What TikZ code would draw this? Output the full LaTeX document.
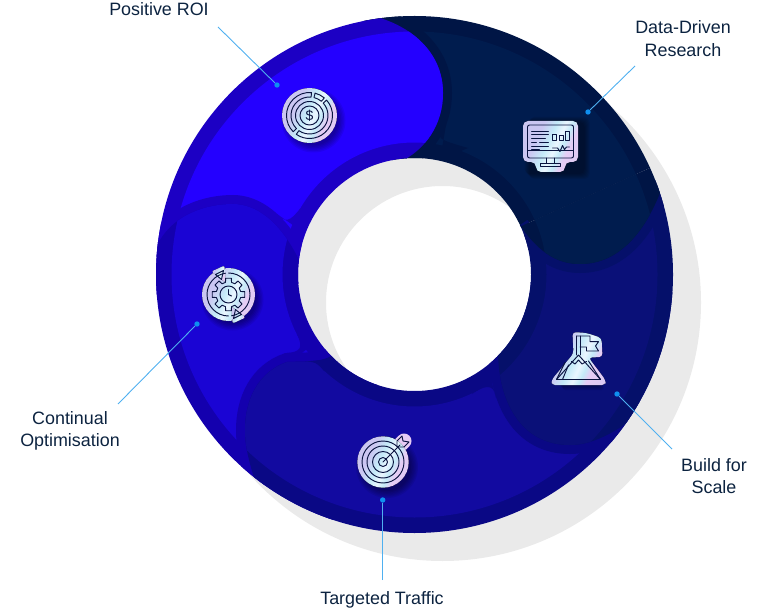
\documentclass[tikz,border=0pt]{standalone}
\usepackage{fontspec}
\setmainfont{Liberation Sans}
\usetikzlibrary{calc}
\definecolor{posF}{HTML}{2400FF}\definecolor{posR}{HTML}{1C00C4}
\definecolor{conF}{HTML}{1A04D4}\definecolor{conR}{HTML}{1400AE}
\definecolor{tarF}{HTML}{120AA0}\definecolor{tarR}{HTML}{0A0885}
\definecolor{bldF}{HTML}{0A1078}\definecolor{bldR}{HTML}{05106A}
\definecolor{datF}{HTML}{001C4E}\definecolor{datR}{HTML}{001545}
\definecolor{shad}{HTML}{EAEAEA}\definecolor{txt}{HTML}{0C2340}
\definecolor{lead}{HTML}{4FB0F0}\definecolor{dotc}{HTML}{0F8FEF}
\definecolor{ink}{HTML}{0A1440}
\definecolor{hA}{HTML}{CBC6F2}\definecolor{hB}{HTML}{C4EAF8}\definecolor{hC}{HTML}{EAF6FF}\definecolor{hD}{HTML}{E6CCF5}
\pgfdeclarehorizontalshading{holo}{100bp}{color(0bp)=(hA);color(35bp)=(hA);color(46bp)=(hB);color(54bp)=(hC);color(60bp)=(hB);color(66bp)=(hD);color(100bp)=(hA)}
\tikzset{
  label/.style={font=\fontsize{17.9}{22.5}\selectfont,text=txt,align=center,inner sep=0pt},
  dotn/.style={circle,fill=dotc,minimum size=5.4pt,inner sep=0pt},
  leader/.style={draw=lead,line width=.9pt},
  sticker/.style={shading=holo,shading angle=-25},
  icon/.style={draw=ink,line width=.95pt,line join=round,line cap=round},
}
\def\ringclip{\clip (414.5,274.5) circle[radius=258.5] (414.5,274.5) circle[radius=116.5];}
\def\bandclip{\clip (414.5,274.5) circle[radius=243] (414.5,274.5) circle[radius=132];}
% boundary curves
\def\curveP{(360,10) -- (377,17) .. controls (415,28) and (443,55) .. (443,93) .. controls (443,125) and (425,150) .. (400,162)}
\def\curveC{(140,262) -- (160,240) .. controls (175,215) and (205,204) .. (233,204) .. controls (255,204) and (280,220) .. (300,262)}
\def\curveT{(340,350) .. controls (325,364) and (305,361) .. (287,362) .. controls (258,372) and (245,400) .. (245,430) .. controls (245,445) and (248,460) .. (258,490)}
\def\curveB{(498,350) .. controls (498,400) and (520,445) .. (570,445) .. controls (590,445) and (615,435) .. (650,405)}
\def\curveD{(520,225) .. controls (540,255) and (560,264) .. (580,264) .. controls (620,264) and (650,230) .. (668,170)}
\newcommand\seglayer[3]{%
  \begin{scope}[even odd rule]\ringclip \fill[#2,nonzero rule] #1; \end{scope}
  \begin{scope}[even odd rule]\bandclip \fill[#3,nonzero rule] #1; \end{scope}}
\newcommand\halo[2]{\begin{scope}[even odd rule]\ringclip \draw[#1,line width=18pt] #2; \end{scope}}
\newcommand\segm[4]{\draw[icon] (#1:#3) arc[start angle=#1,end angle=#2,radius=#3] -- (#2:#4) arc[start angle=#2,end angle=#1,radius=#4] -- cycle;}
\newcommand\softshadow[1]{\foreach \s in {0,...,5}{\fill[black,opacity=.07] (4,-5) #1;}}
\begin{document}
\begin{tikzpicture}[x=1pt,y=-1pt]
\useasboundingbox (0,0) rectangle (770,609);
% drop shadow ring
\fill[shad,even odd rule] (442.5,302.5) circle[radius=258.5] (442.5,302.5) circle[radius=116.5];
% Data-Driven, body
\seglayer{(414.5,274.5) -- (350,-50) -- (800,-50) -- (800,100) -- cycle}{datR}{datF}
% Positive ROI
\halo{datR}{\curveP}
\seglayer{(414.5,274.5) -- (100,300) -- (100,-50) -- (360,-50) -- \curveP -- cycle}{posR}{posF}
% Continual Optimisation
\halo{posR}{\curveC}
\seglayer{\curveC -- (414.5,274.5) -- (300,620) -- (100,620) -- cycle}{conR}{conF}
% Targeted Traffic
\halo{conR}{\curveT}
\seglayer{(414.5,274.5) -- \curveT -- (240,620) -- (800,620) -- (800,300) -- cycle}{tarR}{tarF}
% Build for Scale
\halo{tarR}{\curveB}
\seglayer{(414.5,274.5) -- (800,130) -- (800,480) -- (650,405) .. controls (615,435) and (590,445) .. (570,445) .. controls (520,445) and (498,400) .. (498,350) -- cycle}{bldR}{bldF}
% Data-Driven, end lobe
\halo{bldR}{\curveD}
\seglayer{(414.5,274.5) -- (800,100) -- (668,170) .. controls (650,230) and (620,264) .. (580,264) .. controls (560,264) and (540,255) .. (520,225) -- cycle}{datR}{datF}
% rounded tips of the bands
\fill[posR] (277,214) .. controls (285,223) and (290,222) .. (300.5,208) -- (300,230) -- cycle;
\fill[datR] (446,125) .. controls (432,138) and (440,140) .. (468,148) -- (440,160) -- cycle;
\fill[conR] (296.7,334) .. controls (304,348) and (300,352) .. (287,353) -- (298,356) -- (312,345) -- cycle;
\fill[tarR] (305,361.5) .. controls (313,361) and (318,363) .. (324,371) -- (322,360) -- cycle;
\fill[tarR] (472,394) .. controls (482,387) and (494,381) .. (496,398) -- (490,375) -- cycle;
%
% ---- icons ----
% Positive ROI
\begin{scope}[shift={(309.5,115.5)},y=1pt]
 \softshadow{circle[radius=25+\s*1.4]}
 \fill[sticker] (0,0) circle[radius=27.5];
 \segm{76}{50}{23}{18.5}
 \segm{42}{-125}{23}{18.5}
 \segm{-135}{-275}{23}{18.5}
 \draw[icon] (0,0) circle[radius=14];
 \draw[icon] (0,0) circle[radius=9.5];
 \node (dollar) at (0,0) [text=ink,font=\fontsize{14}{14}\selectfont,inner sep=0pt] {\$};
\end{scope}
% Data-Driven Research
\begin{scope}[shift={(550.5,146)},y=1pt]
 \softshadow{[rounded corners=5pt] (-26+\s,-28-\s) rectangle (34+\s,24+\s)}
 \fill[sticker,rounded corners=5pt] (-27.5,25) -- (27.5,25) -- (27.5,-16) -- (14.5,-16) -- (14.5,-26) -- (-14.5,-26) -- (-14.5,-16) -- (-27.5,-16) -- cycle;
 \draw[icon,rounded corners=2pt] (-23,21) rectangle (23,-12);
 \draw[icon] (-23,-4) -- (23,-4);
 \draw[icon] (-4,-12) -- (-4,-17) (4,-12) -- (4,-17) (-10,-20) rectangle (10,-17.5);
 \draw[icon] (-19,15) -- (-2,15) (-19,11.5) -- (-2,11.5) (-19,8) -- (-5,8) (-19,4) -- (-14,4) (-11,4) -- (-2,4) (-19,0) -- (-2,0) (-19,-3.5) -- (-11,-3.5);
 \draw[icon] (2,6) rectangle (6,12) (8.5,6) rectangle (12.5,10.5) (15,6) rectangle (19,15);
 \draw[icon] (2,-2) -- (7,-2) -- (9.5,-5.5) -- (12,0.5) -- (14,-3.5) -- (16,-1) -- (19,-1);
\end{scope}
% Build for Scale
\begin{scope}[shift={(578.5,358)},y=1pt]
 \softshadow{[rounded corners=4pt] (-22+\s,-27-\s) -- (0,8) -- (22+\s,-27-\s) -- cycle}
 \fill[sticker,rounded corners=3.5pt] (-6,26) -- (8,25) -- (23,20) -- (24,1) -- (10,0.5) -- (27,-22) -- (27,-27) -- (-27,-27) -- (-27,-22) -- (-5,4.5) -- cycle;
 \draw[icon] (-1.8,22) -- (-1.8,3) (1.5,22) -- (1.5,3);
 \draw[icon] (-1.8,22) -- (11.5,22) -- (11.5,16.3) -- (20,16.3) -- (17,12) -- (20,7) -- (8,7) -- (8,11) -- (1.5,11);
 \draw[icon] (0,3) -- (-22,-21.5) -- (22,-21.5) -- cycle;
 \draw[icon] (-13.5,-4.5) -- (-22,-21.5) (-10,-7) -- (-16,-21.5) (10,-3) -- (22,-21.5);
 \draw[icon] (-7,-3.5) -- (-3.5,-6) -- (0,-2) -- (3.5,-6) -- (8,-3.5);
\end{scope}
% Targeted Traffic
\begin{scope}[shift={(383,462)},y=1pt]
 \softshadow{circle[radius=24+\s*1.4]}
 \draw[line width=15pt,line cap=round,draw=hD] (14,14) -- (21,21);
 \fill[sticker] (0,0) circle[radius=25.7];
 \draw[icon] (0,0) circle[radius=21] (0,0) circle[radius=16] (0,0) circle[radius=10.5] (0,0) circle[radius=4.5];
 \draw[icon] (0,0) -- (17,17);
 \draw[icon] (14,15) -- (14,21) -- (19,26) -- (20,21) -- (26,20) -- (21,15) -- cycle;
\end{scope}
% Continual Optimisation
\begin{scope}[shift={(228.5,294.5)},y=1pt]
 \softshadow{circle[radius=24+\s*1.4]}
 \fill[sticker] (0,0) circle[radius=26.5];
 \fill[sticker,rounded corners=2pt] (-17,23) -- (-4,29) -- (-3,12) -- cycle;
 \fill[sticker,rounded corners=2pt] (17,-23) -- (4,-29) -- (3,-12) -- cycle;
 \draw[icon] (0,0) circle[radius=8.5];
 \draw[icon] (0,5) -- (0,0) -- (3,-1.5);
 \draw[icon] (-14:12.5) \foreach \a in {0,45,...,315}{ -- ({\a-14}:12.5) -- ({\a-10}:16.5) -- ({\a+10}:16.5) -- ({\a+14}:12.5)} -- cycle;
 \draw[icon] (-90:21.5) arc[start angle=-90,end angle=-262,radius=21.5];
 \draw[icon] (90:21.5) arc[start angle=90,end angle=-82,radius=21.5];
 \draw[icon] (-13,20) -- (-5,24) -- (-7,15) -- cycle;
 \draw[icon] (13,-20) -- (5,-24) -- (7,-15) -- cycle;
\end{scope}
%
% ---- callouts ----
\node[dotn] (dotP) at (277,85) {};  \coordinate (endP) at (218,27);
\node[dotn] (dotD) at (588,112) {}; \coordinate (endD) at (635,66);
\node[dotn] (dotB) at (617,394) {}; \coordinate (endB) at (672,449);
\node[dotn] (dotT) at (382.7,500) {}; \coordinate (endT) at (382.7,580);
\node[dotn] (dotC) at (197,324) {}; \coordinate (endC) at (118,404);
\draw[leader] (endP) -- (dotP);
\draw[leader] (endD) -- (dotD);
\draw[leader] (endB) -- (dotB);
\draw[leader] (endT) -- (dotT);
\draw[leader] (endC) -- (dotC);
\node[label] (lblP) at (159,9) {Positive ROI};
\node[label] (lblD) at (683,38.5) {Data-Driven\\Research};
\node[label] (lblC) at (70,431) {Continual\\Optimisation};
\node[label] (lblB) at (714,476) {Build for\\Scale};
\node[label] (lblT) at (382,599.5) {Targeted Traffic};
\end{tikzpicture}
\end{document}
